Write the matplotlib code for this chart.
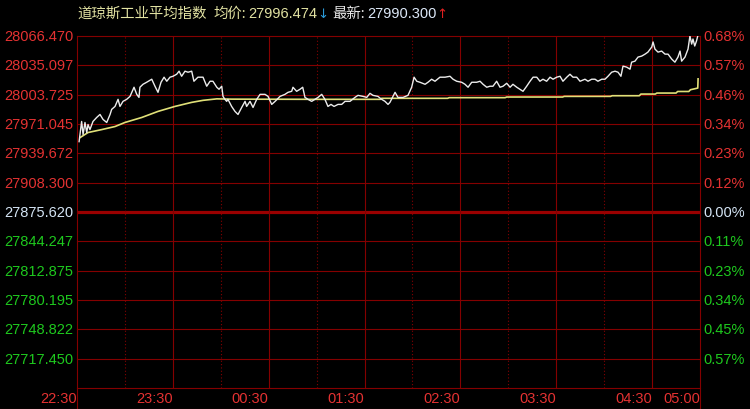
import matplotlib
matplotlib.use("Agg")
import matplotlib.pyplot as plt
from matplotlib.lines import Line2D

# ---------------- data ----------------
title_name = "道琼斯工业平均指数"
avg_label = "均价:"
avg_value = "27996.474"
last_label = "最新:"
last_value = "27990.300"

base_price = 27875.620
top_price = 28066.470

left_labels = ["28066.470", "28035.097", "28003.725", "27971.045", "27939.672", "27908.300",
               "27875.620",
               "27844.247", "27812.875", "27780.195", "27748.822", "27717.450"]
right_labels = ["0.68%", "0.57%", "0.46%", "0.34%", "0.23%", "0.12%",
                "0.00%",
                "0.11%", "0.23%", "0.34%", "0.45%", "0.57%"]

time_labels = ["22:30", "23:30", "00:30", "01:30", "02:30", "03:30", "04:30", "05:00"]
time_label_minutes = [0, 60, 120, 180, 240, 300, 360, 390]
solid_minutes = [60, 120, 180, 240, 300, 360]
dotted_minutes = [30, 90, 150, 210, 270, 330]
total_minutes = 390

price_minutes = [1.3, 2.9, 3.8, 5.0, 6.1, 6.9, 8.1, 10.0, 12.3, 14.4, 16.3, 18.6, 20.7, 21.7, 23.8,
                 25.7, 26.9, 28.8, 31.1, 33.2, 35.7, 37.4, 38.8, 39.4, 41.3, 43.6, 46.8, 48.8, 50.7,
                 52.6, 54.5, 56.2, 58.2, 60.1, 62.4, 63.9, 65.5, 67.6, 69.5, 71.8, 73.2, 75.7, 78.9,
                 81.2, 83.3, 85.1, 87.5, 88.9, 90.6, 91.4, 92.6, 93.7, 94.5, 96.8, 98.9, 100.8,
                 103.1, 105.2, 106.2, 108.3, 110.2, 112.5, 114.6, 117.7, 119.6, 121.9, 124.0, 127.1,
                 130.2, 132.1, 134.4, 135.2, 137.5, 139.6, 141.3, 142.7, 144.6, 146.9, 149.0, 150.9,
                 153.2, 155.2, 157.1, 159.0, 160.9, 163.4, 165.7, 167.8, 170.9, 174.0, 175.9, 179.0,
                 181.4, 183.4, 185.3, 188.4, 190.7, 192.8, 194.7, 195.9, 199.1, 200.9, 204.1, 207.2,
                 209.5, 211.0, 212.7, 214.7, 217.9, 219.7, 222.0, 224.1, 227.2, 230.4, 233.5, 235.4,
                 237.7, 240.8, 242.9, 244.8, 247.1, 250.2, 252.3, 254.2, 256.5, 258.5, 260.4, 262.7,
                 264.8, 266.7, 269.0, 271.1, 272.9, 275.3, 277.3, 279.2, 281.5, 283.6, 285.5, 287.8,
                 289.8, 291.7, 294.0, 296.1, 298.0, 300.3, 302.4, 304.2, 306.6, 308.6, 310.5, 312.8,
                 314.9, 318.0, 319.9, 322.2, 324.3, 326.1, 328.5, 330.5, 332.4, 334.7, 336.8, 338.7,
                 340.5, 341.8, 344.1, 346.2, 347.2, 349.3, 351.2, 353.5, 355.6, 357.4, 359.8, 360.6,
                 361.8, 363.7, 366.0, 368.1, 370.0, 372.3, 374.3, 376.2, 377.5, 378.5, 380.6, 382.5,
                 383.7, 384.8, 385.6, 386.7, 387.8, 388.6]
price_values = [27951.9, 27973.8, 27959.6, 27972.7, 27961.8, 27970.5, 27965.0, 27973.8, 27978.1,
                27981.4, 27976.0, 27972.7, 27981.4, 27986.9, 27990.1, 27997.8, 27990.1, 27995.6,
                27997.8, 28001.0, 28010.9, 28003.2, 27999.9, 28010.9, 28014.1, 28016.3, 28019.6,
                28012.0, 28005.4, 28016.3, 28021.8, 28017.4, 28021.8, 28022.8, 28025.0, 28028.3,
                28022.8, 28028.3, 28027.2, 28028.3, 28017.4, 28021.8, 28021.8, 28012.0, 28017.4,
                28017.4, 28010.9, 28008.7, 28012.0, 28001.0, 27997.8, 27995.6, 27997.8, 27990.1,
                27984.7, 27981.4, 27989.0, 27995.6, 27990.1, 27995.6, 27989.0, 27997.8, 28003.2,
                28003.2, 28001.0, 27992.3, 27995.6, 28001.0, 28003.2, 28005.4, 28006.5, 28010.9,
                28006.5, 28008.7, 28010.9, 27999.9, 27997.8, 27995.6, 27997.8, 27999.9, 28003.2,
                27997.8, 27990.1, 27992.3, 27990.1, 27992.3, 27992.3, 27995.6, 27995.6, 27999.9,
                28002.1, 28001.0, 27999.9, 28004.3, 28002.1, 28001.0, 27997.8, 27995.6, 27992.3,
                27994.5, 28005.4, 27999.9, 27999.9, 28002.1, 28010.9, 28021.8, 28017.4, 28016.3,
                28014.1, 28016.3, 28019.6, 28017.4, 28021.8, 28021.8, 28022.8, 28019.6, 28017.4,
                28016.3, 28014.1, 28010.9, 28016.3, 28016.3, 28017.4, 28014.1, 28010.9, 28012.0,
                28012.0, 28017.4, 28010.9, 28012.0, 28015.2, 28010.9, 28014.1, 28010.9, 28008.7,
                28006.5, 28012.0, 28017.4, 28021.8, 28021.8, 28017.4, 28019.6, 28017.4, 28021.8,
                28019.6, 28021.8, 28022.8, 28017.4, 28021.8, 28025.0, 28021.8, 28021.8, 28017.4,
                28019.6, 28017.4, 28019.6, 28019.6, 28017.4, 28019.6, 28019.6, 28022.8, 28027.2,
                28028.3, 28027.2, 28022.8, 28033.8, 28032.7, 28030.5, 28038.1, 28039.2, 28043.6,
                28044.7, 28046.8, 28049.0, 28054.5, 28060.0, 28052.3, 28049.0, 28050.1, 28046.8,
                28046.8, 28041.4, 28038.1, 28043.6, 28050.1, 28039.2, 28043.6, 28052.3, 28066.5,
                28057.7, 28063.2, 28055.6, 28061.0, 28066.5]

avg_minutes = [1.9, 6.9, 15.5, 23.8, 30.0, 40.5, 50.7, 61.3, 71.8, 78.9, 87.5, 97.0, 150.0, 190.0,
               190.7, 232.0, 233.0, 268.0, 269.0, 304.0, 305.0, 334.0, 335.0, 352.0, 353.0, 362.0,
               363.0, 375.0, 376.0, 383.0, 384.0, 388.6, 388.8]
avg_values = [27956.3, 27961.8, 27965.0, 27968.3, 27972.7, 27978.1, 27984.7, 27990.1, 27994.5,
              27996.7, 27998.3, 27998.0, 27997.8, 27997.8, 27998.9, 27998.9, 27999.6, 27999.6,
              28000.3, 28000.3, 28001.0, 28001.0, 28001.7, 28001.7, 28003.5, 28003.5, 28004.6,
              28004.6, 28006.3, 28006.3, 28008.2, 28010.0, 28020.0]

# ---------------- style ----------------
BG = "#000000"
GRID = "#840000"
RED = "#e43232"
GREEN = "#1ec81e"
NEUTRAL = "#d4e4f4"
NUMFONT = "Liberation Sans"
CJK = ["Noto Sans CJK SC", "DejaVu Sans"]
ARROW = ["DejaVu Sans"]
FS = 10.5

W, H = 750, 410
fig = plt.figure(figsize=(W / 100, H / 100), dpi=100, facecolor=BG)
L, R, T, B = 77, 700, 37, 389
ax = fig.add_axes([L / W, (H - B) / H, (R - L) / W, (B - T) / H], facecolor=BG)
for s in ax.spines.values():
    s.set_visible(False)
ax.set_xticks([])
ax.set_yticks([])

half = top_price - base_price
ymin, ymax = base_price - half, top_price
ax.set_xlim(0, total_minutes)
ax.set_ylim(ymin, ymax)
step = half / 6.0
levels = [base_price + k * step for k in range(6, -7, -1)]

# horizontal grid
for i, lv in enumerate(levels):
    if abs(lv - base_price) < 1e-6:
        ax.axhline(lv, color="#9a0000", lw=2.3, zorder=1)
    else:
        ax.axhline(lv, color=GRID, lw=0.8, zorder=1, clip_on=False)
# vertical grid
for m in solid_minutes:
    ax.axvline(m, color=GRID, lw=0.8, zorder=1)
for m in dotted_minutes:
    ax.axvline(m, color=GRID, lw=0.8, ls=(0, (1, 2)), zorder=1)

# borders extending below plot
def fig_line(x0, y0, x1, y1):
    fig.add_artist(Line2D([x0 / W, x1 / W], [1 - y0 / H, 1 - y1 / H], color=GRID, lw=0.8,
                          transform=fig.transFigure))
fig_line(L, T, L, 409.5)
fig_line(R, T, R, 409.5)
fig_line(0, 409.5, R, 409.5)

# series
ax.plot(avg_minutes, avg_values, color="#e0e078", lw=1.2, zorder=3)
ax.plot(price_minutes, price_values, color="#ececec", lw=1.0, zorder=4)

# axis labels
ytr = ax.get_yaxis_transform()
for i, (ll, rl) in enumerate(zip(left_labels, right_labels)):
    lv = levels[i]
    if i < 6:
        c = RED
    elif i == 6:
        c = NEUTRAL
    else:
        c = GREEN
    ax.text(-3.5 / (R - L), lv, ll, transform=ytr, ha="right", va="center", color=c,
            fontsize=FS, family=NUMFONT)
    ax.text(1 + 3 / (R - L), lv, rl, transform=ytr, ha="left", va="center", color=c,
            fontsize=FS, family=NUMFONT)

xtr = ax.get_xaxis_transform()
for m, lab in zip(time_label_minutes, time_labels):
    ax.text(m, -10.5 / (B - T), lab, transform=xtr, ha="right", va="center", color=RED,
            fontsize=FS, family=NUMFONT)

# title
ty = 1 - 14 / H
fig.text(77 / W, ty, title_name, color="#e2e2a2", fontsize=10.4, family=CJK, va="center")
fig.text(213 / W, ty, avg_label, color="#e2e2a2", fontsize=10.4, family=CJK, va="center")
fig.text(248 / W, ty, avg_value, color="#e2e2a2", fontsize=FS, family=NUMFONT, va="center")
fig.text(317 / W, ty, "↓", color="#2a9ad8", fontsize=9.5, family=ARROW, va="center")
fig.text(332 / W, ty, last_label, color="#e8e8e8", fontsize=10.4, family=CJK, va="center")
fig.text(367 / W, ty, last_value, color="#dce8f8", fontsize=FS, family=NUMFONT, va="center")
fig.text(436 / W, ty, "↑", color="#e02020", fontsize=9.5, family=ARROW, va="center")

fig.savefig("out.png", dpi=100, facecolor=BG)
